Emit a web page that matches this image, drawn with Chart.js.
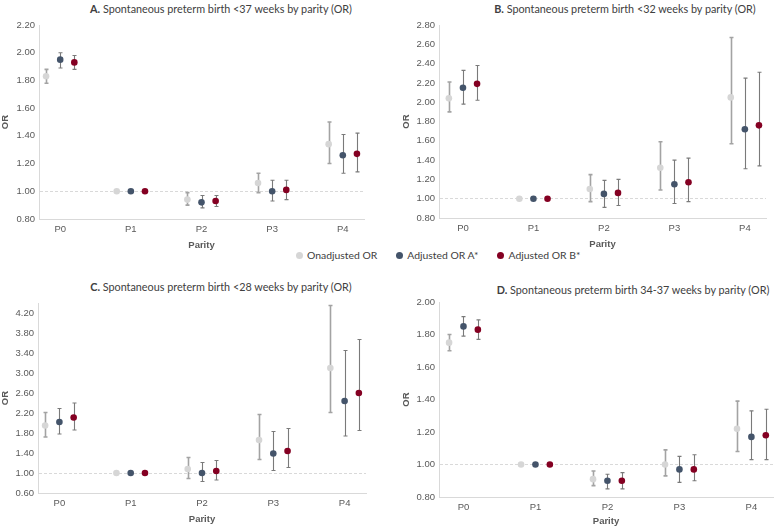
<!DOCTYPE html>
<html>
<head>
<meta charset="utf-8">
<script src="https://cdn.jsdelivr.net/npm/chart.js@4.4.0/dist/chart.umd.min.js"></script>
<style>
  body { margin: 0; background: #fff; width: 778px; height: 527px; position: relative; overflow: hidden; font-family: Lato, 'Open Sans', sans-serif; }
  .box { position: absolute; }
  .ttl { position: absolute; transform: translate(-50%, -50%); white-space: nowrap; font-size: 10.8px; color: #404040; }
  #legend { position: absolute; left: 296px; top: 249px; display: flex; gap: 19px; font-size: 10.4px; color: #404040; white-space: nowrap; }
  #legend span.dot { display: inline-block; width: 7px; height: 7px; border-radius: 50%; margin-right: 4px; vertical-align: 0px; }
</style>
</head>
<body>
<div class="ttl" style="left:221px;top:8px"><b>A.</b> Spontaneous preterm birth &lt;37 weeks by parity (OR)</div>
<div class="ttl" style="left:625px;top:8px"><b>B.</b> Spontaneous preterm birth &lt;32 weeks by parity (OR)</div>
<div class="ttl" style="left:221px;top:286px"><b>C.</b> Spontaneous preterm birth &lt;28 weeks by parity (OR)</div>
<div class="ttl" style="left:633px;top:289px"><b>D.</b> Spontaneous preterm birth 34-37 weeks by parity (OR)</div>
<div id="legend"></div>

<div class="box" style="left:0px;top:15px;width:368px;height:240px"><canvas id="chartA"></canvas></div>
<div class="box" style="left:390px;top:15px;width:380px;height:239px"><canvas id="chartB"></canvas></div>
<div class="box" style="left:0px;top:293px;width:370px;height:234px"><canvas id="chartC"></canvas></div>
<div class="box" style="left:390px;top:292px;width:387px;height:235px"><canvas id="chartD"></canvas></div>

<script>
// categories and series
const parity = ['P0', 'P1', 'P2', 'P3', 'P4'];
const seriesNames = ['Onadjusted OR', 'Adjusted OR A*', 'Adjusted OR B*'];
const seriesColors = ['#d6d6d6', '#44546a', '#840022'];

// A. <37 weeks  (rows: unadjusted, A*, B*)
const orA = [[1.83, 1.00, 0.94, 1.06, 1.34], [1.95, 1.00, 0.92, 1.00, 1.26], [1.93, 1.00, 0.93, 1.01, 1.27]];
const loA = [[1.78, null, 0.90, 0.99, 1.20], [1.89, null, 0.88, 0.93, 1.13], [1.88, null, 0.89, 0.94, 1.14]];
const hiA = [[1.88, null, 0.99, 1.13, 1.50], [2.00, null, 0.97, 1.08, 1.41], [1.98, null, 0.97, 1.08, 1.42]];
const ticksA = [0.8, 1.0, 1.2, 1.4, 1.6, 1.8, 2.0, 2.2];

// B. <32 weeks
const orB = [[2.04, 1.00, 1.10, 1.32, 2.05], [2.15, 1.00, 1.05, 1.15, 1.72], [2.19, 1.00, 1.06, 1.17, 1.76]];
const loB = [[1.90, null, 0.97, 1.09, 1.57], [1.98, null, 0.91, 0.95, 1.31], [2.02, null, 0.93, 0.97, 1.34]];
const hiB = [[2.21, null, 1.25, 1.59, 2.67], [2.33, null, 1.19, 1.40, 2.25], [2.38, null, 1.20, 1.42, 2.31]];
const ticksB = [0.8, 1.0, 1.2, 1.4, 1.6, 1.8, 2.0, 2.2, 2.4, 2.6, 2.8];

// C. <28 weeks
const orC = [[1.95, 1.00, 1.08, 1.66, 3.10], [2.02, 1.00, 1.00, 1.39, 2.44], [2.11, 1.00, 1.04, 1.44, 2.60]];
const loC = [[1.72, null, 0.89, 1.27, 2.21], [1.78, null, 0.83, 1.05, 1.74], [1.86, null, 0.86, 1.11, 1.85]];
const hiC = [[2.21, null, 1.31, 2.17, 4.35], [2.29, null, 1.21, 1.83, 3.45], [2.40, null, 1.25, 1.89, 3.67]];
const ticksC = [0.6, 1.0, 1.4, 1.8, 2.2, 2.6, 3.0, 3.4, 3.8, 4.2];

// D. 34-37 weeks
const orD = [[1.75, 1.00, 0.91, 1.00, 1.22], [1.85, 1.00, 0.90, 0.97, 1.17], [1.83, 1.00, 0.90, 0.97, 1.18]];
const loD = [[1.70, null, 0.87, 0.93, 1.08], [1.79, null, 0.85, 0.89, 1.03], [1.77, null, 0.85, 0.90, 1.03]];
const hiD = [[1.80, null, 0.96, 1.09, 1.39], [1.91, null, 0.94, 1.05, 1.33], [1.89, null, 0.95, 1.06, 1.34]];
const ticksD = [0.8, 1.0, 1.2, 1.4, 1.6, 1.8, 2.0];

const seriesOffset = [-0.2, 0, 0.2];
const errColors = ['#a3a3a3', '#7a7a7a', '#7a7a7a'];
const errWidths = [1.6, 1.1, 1.1];

// shared legend
document.getElementById('legend').innerHTML = seriesNames
  .map((n, i) => `<span><span class="dot" style="background:${seriesColors[i]}"></span>${n}</span>`)
  .join('');

// error bars drawn behind the points
const errorBars = {
  id: 'errorBars',
  beforeDatasetsDraw(chart) {
    const { ctx, scales: { x, y } } = chart;
    chart.data.datasets.forEach(ds => {
      ctx.save();
      ctx.strokeStyle = ds.errColor;
      ctx.lineWidth = ds.errWidth;
      ds.data.forEach(p => {
        if (p.lo == null) return;
        const px = Math.round(x.getPixelForValue(p.x)) + 0.5;
        const yl = y.getPixelForValue(p.lo);
        const yh = y.getPixelForValue(p.hi);
        ctx.beginPath();
        ctx.moveTo(px, yl); ctx.lineTo(px, yh);
        ctx.moveTo(px - 2, yl); ctx.lineTo(px + 2, yl);
        ctx.moveTo(px - 2, yh); ctx.lineTo(px + 2, yh);
        ctx.stroke();
      });
      ctx.restore();
    });
  }
};

function renderPanel(id, or, lo, hi, yTicks, yMax, yWidth, xMin, orPad, xHeight) {
  const datasets = seriesNames.map((name, s) => ({
    label: name,
    data: parity.map((_, i) => ({ x: i + seriesOffset[s], y: or[s][i], lo: lo[s][i], hi: hi[s][i] })),
    backgroundColor: seriesColors[s],
    borderWidth: 0,
    pointRadius: 3.3,
    errColor: errColors[s],
    errWidth: errWidths[s],
  }));

  new Chart(document.getElementById(id), {
    type: 'scatter',
    data: { datasets },
    plugins: [errorBars],
    options: {
      responsive: true,
      maintainAspectRatio: false,
      animation: false,
      layout: { padding: { top: 10, right: 0, bottom: 0, left: 0 } },
      scales: {
        x: {
          type: 'linear',
          min: xMin,
          max: 4.3,
          afterBuildTicks: axis => { axis.ticks = parity.map((_, i) => ({ value: i })); },
          afterFit: s => { s.height = xHeight; },
          ticks: { autoSkip: false, padding: 5, color: '#595959', font: { size: 9.5 }, callback: v => parity[Math.round(v)] },
          grid: { display: false, drawTicks: false },
          border: { color: '#d9d9d9' },
          title: { display: true, text: 'Parity', color: '#595959', font: { size: 9.5, weight: 'bold' }, padding: { top: 0, bottom: Math.max(0, xHeight - 32) } },
        },
        y: {
          min: yTicks[0],
          max: yMax,
          afterBuildTicks: axis => { axis.ticks = yTicks.map(v => ({ value: v })); },
          afterFit: s => { s.width = yWidth; },
          ticks: { autoSkip: false, padding: 4, color: '#595959', font: { size: 9.5 }, callback: v => v.toFixed(2) },
          grid: {
            drawTicks: false,
            color: ctx => (ctx.tick && Math.abs(ctx.tick.value - 1) < 1e-9 ? '#d9d9d9' : 'rgba(0,0,0,0)'),
          },
          border: { color: '#d9d9d9', dash: [3, 2] },
          title: { display: true, text: 'OR', color: '#595959', font: { size: 9.5, weight: 'bold' }, padding: { top: orPad, bottom: 0 } },
        },
      },
      plugins: {
        legend: { display: false },
        tooltip: { enabled: false },
      },
    },
  });
}

renderPanel('chartA', orA, loA, hiA, ticksA, 2.2, 39, -0.3, 0, 36);
renderPanel('chartB', orB, loB, hiB, ticksB, 2.8, 49, -0.34, 11, 36);
renderPanel('chartC', orC, loC, hiC, ticksC, 4.4, 38, -0.3, 0, 34);
renderPanel('chartD', orD, loD, hiD, ticksD, 2.0, 49, -0.34, 11, 30);
</script>
</body>
</html>
